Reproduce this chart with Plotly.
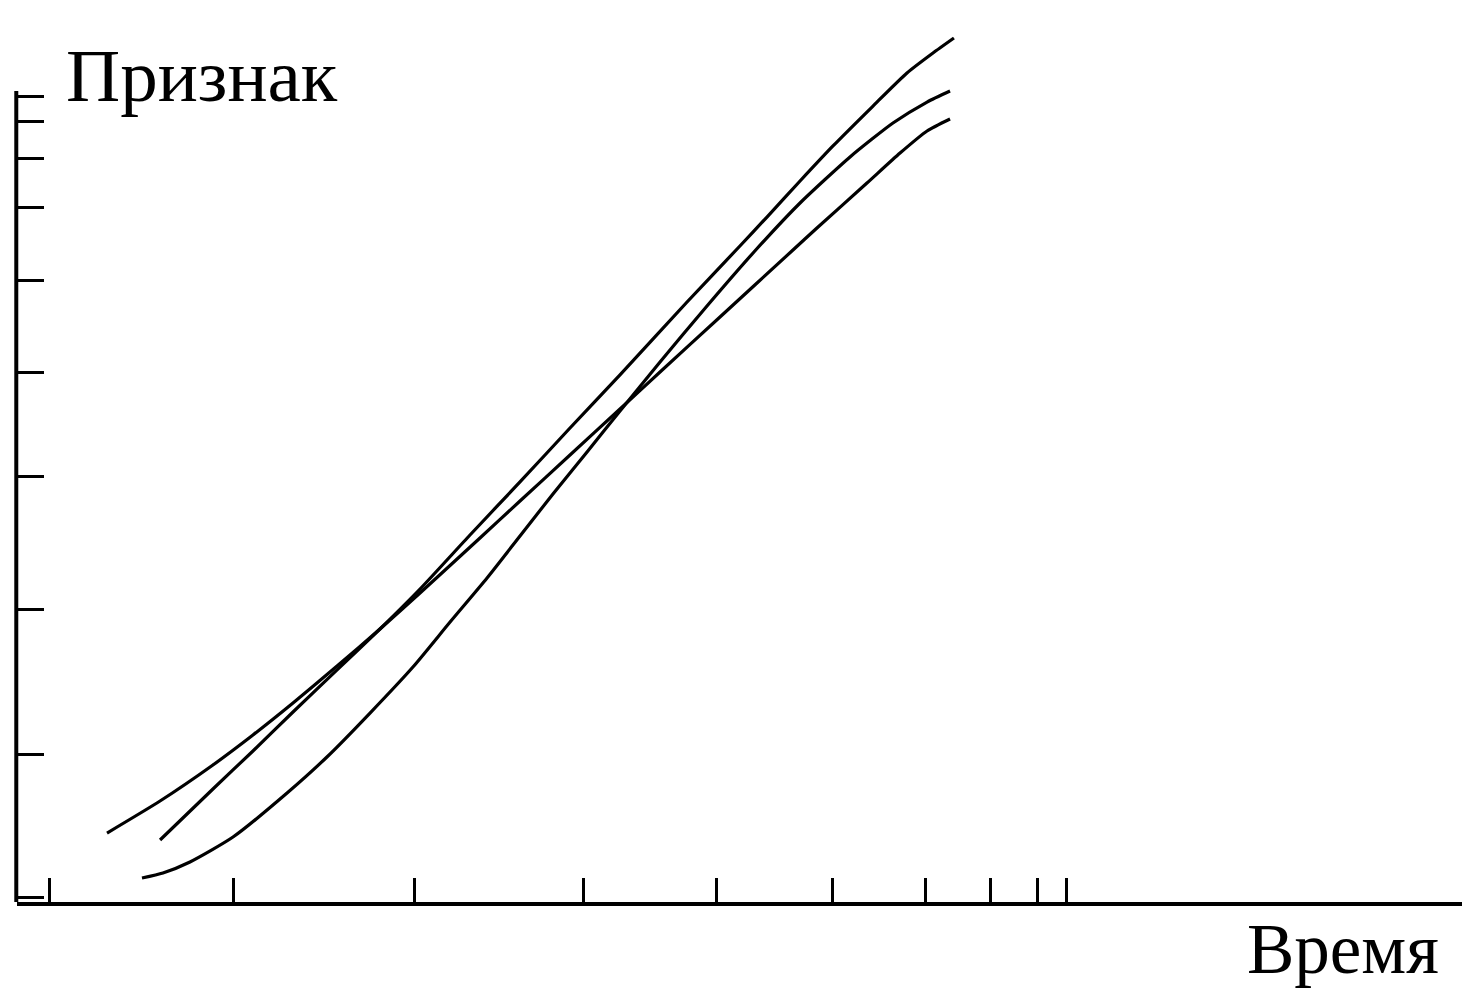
import plotly.graph_objects as go

# Axis tick positions (arbitrary units, no labels shown)
x_ticks = [2.28, 14.95, 27.54, 39.17, 48.44, 56.47, 62.84, 67.34, 70.59, 72.66]
y_ticks = [0.57, 16.97, 33.60, 48.74, 60.67, 71.22, 79.59, 85.32, 89.56, 92.32]
y_axis_top = 93.0

# Curve 1 (steepest, ends highest)
c1_x = [9.90, 13.56, 16.33, 19.10, 22.15, 25.12, 27.89, 31.35, 34.81, 38.27,
        41.73, 46.37, 50.03, 51.90, 54.19, 56.47, 59.24, 61.59, 63.39, 64.84]
c1_y = [7.11, 12.96, 17.32, 21.79, 26.61, 31.31, 35.89, 42.09, 48.17, 54.36,
        60.44, 68.81, 75.23, 78.55, 82.68, 86.70, 91.28, 95.07, 97.36, 99.08]

# Curve 2 (gentlest, ends lowest)
c2_x = [6.23, 9.90, 13.56, 16.33, 19.10, 22.15, 25.12, 27.89, 32.04, 34.81,
        38.27, 41.73, 44.50, 48.65, 53.70, 55.36, 58.82, 61.11, 62.98, 64.57]
c2_y = [7.91, 11.58, 15.71, 19.15, 22.82, 27.06, 31.31, 35.44, 41.74, 45.99,
        51.26, 56.54, 60.78, 67.09, 74.77, 77.29, 82.45, 85.89, 88.42, 89.79]

# Curve 3 (starts lowest, S-shaped)
c3_x = [8.65, 10.10, 11.97, 14.95, 18.69, 21.45, 24.43, 27.40, 29.97, 32.53, 34.81,
        37.09, 39.45, 41.73, 44.50, 47.75, 51.00, 54.19, 57.65, 60.62, 62.98, 64.57]
c3_y = [2.75, 3.33, 4.59, 7.45, 12.50, 16.63, 21.67, 26.95, 32.11, 37.16, 41.97,
        46.79, 51.61, 56.31, 61.93, 68.35, 74.54, 80.16, 85.44, 89.33, 91.74, 93.00]

fig = go.Figure()
for xs, ys in [(c1_x, c1_y), (c2_x, c2_y), (c3_x, c3_y)]:
    fig.add_trace(go.Scatter(x=xs, y=ys, mode="lines",
                             line=dict(color="black", width=3.2, shape="spline", smoothing=0.6),
                             showlegend=False, hoverinfo="skip"))

fig.update_layout(
    width=1465, height=990,
    margin=dict(l=9, r=11, t=22, b=96),
    paper_bgcolor="white", plot_bgcolor="white",
    xaxis=dict(range=[0, 100], showgrid=False, zeroline=False,
               showline=True, linecolor="black", linewidth=4,
               ticks="inside", tickvals=x_ticks, ticklen=24, tickwidth=3,
               tickcolor="black", showticklabels=False),
    yaxis=dict(range=[0, 100], showgrid=False, zeroline=False, showline=False,
               ticks="inside", tickvals=y_ticks, ticklen=27, tickwidth=3,
               tickcolor="black", showticklabels=False),
    shapes=[dict(type="line", xref="paper", yref="y", x0=-0.0005, x1=-0.0005,
                 y0=-0.3, y1=y_axis_top, line=dict(color="black", width=4))],
    annotations=[
        dict(text="Признак", xref="paper", yref="paper", x=0.0326, y=0.948,
             xanchor="left", yanchor="middle", showarrow=False,
             font=dict(family="Liberation Serif", size=75, color="black")),
        dict(text="Время", xref="paper", yref="paper", x=0.850, y=-0.0535,
             xanchor="left", yanchor="middle", showarrow=False,
             font=dict(family="Liberation Serif", size=71, color="black")),
    ],
)

fig.write_html("out.html")
